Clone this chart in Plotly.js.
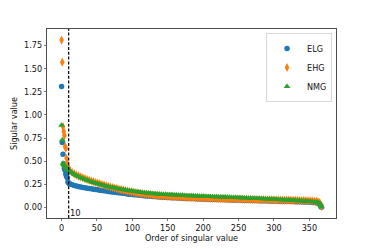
<!DOCTYPE html>
<html>
<head>
<meta charset="utf-8">
<script src="https://cdn.plot.ly/plotly-3.0.1.min.js"></script>
<style>
html,body{margin:0;padding:0;background:#fff;}
#chart{width:374px;height:249px;}
</style>
</head>
<body>
<div id="chart"></div>
<script>
// Order (index) of singular values, sampled
const order = [0,1,2,3,4,5,6,7,8,9,10,11,
  12,15,18,21,24,27,30,33,36,39,
  42,45,48,51,54,57,60,63,66,69,
  72,75,78,81,84,87,90,93,96,99,
  102,105,108,111,114,117,120,123,126,129,
  132,135,138,141,144,147,150,153,156,159,
  162,165,168,171,174,177,180,183,186,189,
  192,195,198,201,204,207,210,213,216,219,
  222,225,228,231,234,237,240,243,246,249,
  252,255,258,261,264,267,270,273,276,279,
  282,285,288,291,294,297,300,303,306,309,
  312,315,318,321,324,327,330,333,336,339,
  342,345,348,351,354,357,360,
  362,364,365,366,367];

const elg = [1.307,0.700,0.574,0.470,0.420,0.400,0.360,0.335,0.320,0.275,0.262,0.256,
  .251,.243,.236,.230,.224,.220,.215,.211,.207,.203,
  .200,.196,.192,.189,.185,.181,.178,.175,.172,.169,
  .166,.163,.160,.157,.154,.151,.148,.145,.142,.140,
  .137,.135,.133,.130,.128,.125,.123,.121,.119,.118,
  .116,.114,.112,.111,.109,.108,.107,.106,.104,.103,
  .102,.101,.100,.099,.097,.096,.095,.094,.094,.093,
  .092,.091,.090,.089,.088,.088,.087,.086,.086,.085,
  .084,.083,.083,.082,.081,.081,.080,.079,.079,.078,
  .078,.077,.076,.076,.075,.075,.074,.073,.073,.072,
  .072,.071,.070,.070,.069,.069,.068,.067,.067,.066,
  .066,.065,.064,.064,.063,.062,.061,.060,.060,.059,
  .058,.057,.056,.055,.053,.051,.049,
  .045,.037,.030,.018,.000];

const ehg = [1.810,1.571,0.873,0.820,0.776,0.657,0.640,0.530,0.477,0.440,0.418,0.405,
  .395,.377,.362,.349,.339,.329,.319,.310,.301,.293,
  .284,.276,.268,.261,.253,.246,.240,.233,.227,.220,
  .214,.208,.202,.196,.191,.186,.181,.176,.171,.167,
  .162,.158,.154,.151,.147,.144,.141,.138,.135,.133,
  .130,.128,.126,.124,.122,.121,.119,.118,.116,.115,
  .113,.112,.111,.110,.108,.107,.106,.105,.104,.103,
  .102,.101,.100,.100,.099,.098,.097,.096,.096,.095,
  .094,.093,.093,.092,.091,.091,.090,.089,.089,.088,
  .088,.087,.086,.086,.085,.084,.084,.083,.083,.082,
  .082,.082,.081,.081,.080,.080,.079,.079,.078,.078,
  .078,.077,.077,.077,.076,.076,.075,.075,.074,.073,
  .073,.072,.071,.070,.069,.067,.064,
  .060,.052,.044,.030,.010];

const nmg = [0.888,0.729,0.477,0.462,0.452,0.443,0.435,0.427,0.419,0.411,0.404,0.397,
  .390,.372,.357,.344,.332,.321,.311,.302,.293,.285,
  .276,.268,.261,.254,.247,.241,.235,.229,.223,.218,
  .213,.208,.203,.199,.194,.190,.186,.182,.179,.175,
  .172,.168,.165,.162,.159,.156,.154,.152,.149,.147,
  .146,.144,.142,.141,.139,.138,.137,.136,.135,.133,
  .132,.131,.130,.129,.127,.126,.125,.124,.124,.122,
  .121,.120,.120,.119,.118,.117,.116,.115,.114,.113,
  .112,.111,.110,.110,.109,.108,.107,.106,.105,.104,
  .103,.102,.101,.100,.099,.098,.097,.096,.095,.094,
  .093,.092,.091,.090,.089,.087,.086,.085,.083,.082,
  .081,.080,.079,.078,.076,.075,.073,.072,.070,.068,
  .067,.065,.063,.062,.060,.057,.055,
  .052,.045,.038,.025,.005];

const seriesNames = ['ELG','EHG','NMG'];
const cutoff = 10;
const xTicks = [0,50,100,150,200,250,300,350];
const yTicks = [0,0.25,0.5,0.75,1.0,1.25,1.5,1.75];

const font = 'DejaVu Sans, Liberation Sans, sans-serif';

const traces = [
  {x: order, y: elg, name: seriesNames[0], type: 'scatter', mode: 'markers',
   marker: {symbol: 'circle', size: 5.5, color: '#1f77b4', line: {width: 0}}},
  {x: order, y: ehg, name: seriesNames[1], type: 'scatter', mode: 'markers',
   marker: {symbol: 'diamond-tall', size: 6.5, color: '#ff7f0e', line: {width: 0}}},
  {x: order, y: nmg, name: seriesNames[2], type: 'scatter', mode: 'markers',
   marker: {symbol: 'triangle-up', size: 6, color: '#2ca02c', line: {width: 0}}}
];

const layout = {
  width: 374, height: 249,
  margin: {l: 46.7, r: 38.3, t: 29, b: 31, pad: 0},
  paper_bgcolor: '#fff', plot_bgcolor: '#fff',
  font: {family: font, size: 8.1, color: '#111'},
  showlegend: true,
  legend: {x: 0.987, y: 0.978, xanchor: 'right', yanchor: 'top', itemwidth: 30,
           bgcolor: 'rgba(255,255,255,0.8)', bordercolor: '#d0d0d0', borderwidth: 0.8,
           font: {family: font, size: 8.1, color: '#111'}},
  xaxis: {
    range: [-20.6, 387.6], tickvals: xTicks, ticktext: xTicks.map(String),
    showgrid: false, zeroline: false, showline: true, mirror: true,
    linecolor: '#222', linewidth: 0.8, ticks: 'outside', ticklen: 2.5, tickwidth: 0.6, tickcolor: '#222',
    title: {text: 'Order of singular value', font: {family: font, size: 8.1, color: '#111'}, standoff: 3}
  },
  yaxis: {
    range: [-0.116, 1.93], tickvals: yTicks, ticktext: yTicks.map(v => v.toFixed(2)),
    showgrid: false, zeroline: false, showline: true, mirror: true,
    linecolor: '#222', linewidth: 0.8, ticks: 'outside', ticklen: 2.5, tickwidth: 0.6, tickcolor: '#222',
    title: {text: 'Sigular value', font: {family: font, size: 8.1, color: '#111'}, standoff: 5}
  },
  shapes: [{type: 'line', xref: 'x', yref: 'paper', x0: cutoff, x1: cutoff, y0: 0, y1: 1,
            line: {color: '#000', width: 1.2, dash: '3px,1.8px'}}],
  annotations: [{xref: 'x', yref: 'paper', x: cutoff, y: 0, xanchor: 'left', yanchor: 'bottom',
                 text: String(cutoff), showarrow: false, font: {family: font, size: 8.4, color: '#111'},
                 borderpad: 0, yshift: -1}]
};

Plotly.newPlot('chart', traces, layout, {staticPlot: true, displayModeBar: false});
</script>
</body>
</html>
